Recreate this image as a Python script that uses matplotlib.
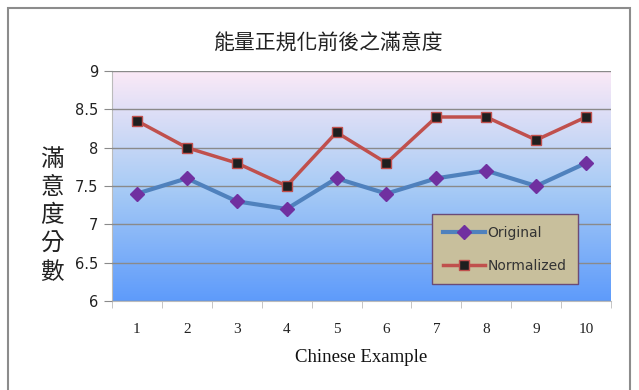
import matplotlib.pyplot as plt
import numpy as np
from matplotlib.colors import LinearSegmentedColormap
from matplotlib.patches import Rectangle

# 滿意度資料
examples = [1, 2, 3, 4, 5, 6, 7, 8, 9, 10]
original = [7.4, 7.6, 7.3, 7.2, 7.6, 7.4, 7.6, 7.7, 7.5, 7.8]
normalized = [8.35, 8.0, 7.8, 7.5, 8.2, 7.8, 8.4, 8.4, 8.1, 8.4]
yticks = [6, 6.5, 7, 7.5, 8, 8.5, 9]

cjk = ['Noto Sans CJK TC', 'DejaVu Sans']

fig = plt.figure(figsize=(6.39, 3.9), dpi=100)
fig.patches.append(Rectangle((8 / 639, -0.1), 622 / 639, 1.1 - 8 / 390,
                             transform=fig.transFigure, fill=False,
                             edgecolor='#8c8c8c', linewidth=1.5))

ax = fig.add_axes([112 / 639, 1 - 301 / 390, 499 / 639, 230 / 390])

# 背景漸層 (上粉下藍)
cmap = LinearSegmentedColormap.from_list('bg', ['#fbe9f7', '#a9ccf5', '#5e9bfb'])
grad = np.linspace(0, 1, 256).reshape(-1, 1)
ax.imshow(grad, cmap=cmap, aspect='auto', extent=(0.5, 10.5, 6, 9),
          origin='upper', zorder=0)

ax.set_xlim(0.5, 10.5)
ax.set_ylim(6, 9)
ax.set_yticks(yticks)
ax.set_yticklabels(['6', '6.5', '7', '7.5', '8', '8.5', '9'],
                   fontsize=10.5, color='#222222')
ax.yaxis.grid(True, color='#8a8a8a', linewidth=1)
ax.set_axisbelow(False)
ax.tick_params(axis='y', length=6, color='#8a8a8a', pad=4)

ax.set_xticks(examples)
ax.set_xticklabels([str(e) for e in examples], family='Liberation Serif',
                   fontsize=11, color='#222222')
ax.set_xticks(np.arange(0.5, 11, 1), minor=True)
ax.tick_params(axis='x', which='major', length=0, pad=16)
ax.tick_params(axis='x', which='minor', length=5, color='#bbbbbb')

for side in ['top', 'right']:
    ax.spines[side].set_visible(False)
ax.spines['left'].set_color('#bbbbbb')
ax.spines['bottom'].set_color('#bbbbbb')

ax.plot(examples, original, color='#4f81bd', linewidth=3,
        marker='D', markersize=7, markerfacecolor='#7030a0',
        markeredgecolor='#7030a0', label='Original', zorder=3)
ax.plot(examples, normalized, color='#c0504d', linewidth=2.5,
        marker='s', markersize=7, markerfacecolor='#1f1f1f',
        markeredgecolor='#c0504d', label='Normalized', zorder=3)

fig.text(328 / 639, 1 - 44 / 390, '能量正規化前後之滿意度',
         ha='center', va='center', fontsize=15, family=cjk, color='#222222')
fig.text(52 / 639, 1 - 216 / 390, '滿\n意\n度\n分\n數', ha='center',
         va='center', fontsize=17, family=cjk, linespacing=1.3,
         color='#222222')
ax.set_xlabel('Chinese Example', family='Liberation Serif', fontsize=13.5,
              color='#111111', labelpad=9)

leg = ax.legend(loc='lower left', bbox_to_anchor=(313 / 499, 10 / 230),
                frameon=True, fancybox=False, fontsize=10,
                handlelength=3, labelspacing=1.4, borderpad=0.8,
                handletextpad=0.2)
leg.get_frame().set_facecolor('#c8bf9c')
leg.get_frame().set_edgecolor('#6a4b78')
leg.get_frame().set_alpha(1)
for t in leg.get_texts():
    t.set_color('#333333')

fig.savefig('out.png', dpi=100)
